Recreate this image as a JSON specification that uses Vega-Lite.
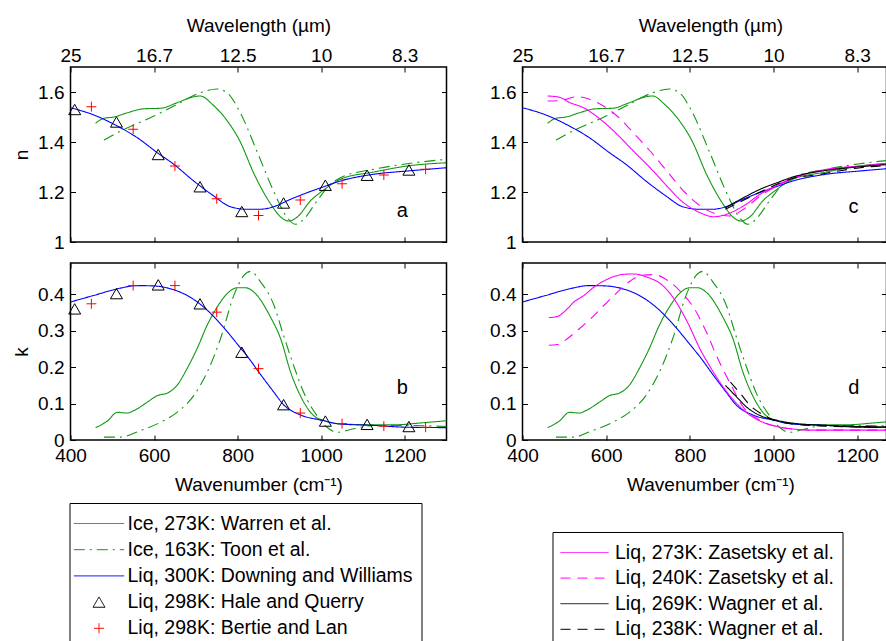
{
  "$schema": "https://vega.github.io/schema/vega-lite/v6.json",
  "background": "white",
  "padding": {"left": 11.5, "top": 15, "right": 0, "bottom": 0},
  "config": {
    "font": "Liberation Sans",
    "view": {"stroke": "black", "strokeWidth": 1.5},
    "axis": {"domain": false, "grid": false, "tickColor": "black", "tickWidth": 1, "tickSize": -5, "labelFontSize": 19, "labelFont": "Liberation Sans", "labelColor": "black", "titleFontSize": 19, "titleFont": "Liberation Sans", "titleFontWeight": "normal", "titleColor": "black", "labelOverlap": false, "labelFlush": false, "labelBound": false},
    "axisTop": {"labelPadding": 7, "titlePadding": 11},
    "axisBottom": {"labelPadding": 11.5, "titlePadding": 9.5},
    "axisLeft": {"labelPadding": 11.5, "titlePadding": 6}
  },
  "datasets": {
    "curves": [
      {"s": "Ice, 273K: Warren et al.", "q": "n", "x": [460,480,504,536,576,616,655,695,711,740,775,805,840,880,903,922,943,974,1006,1046,1126,1206,1300], "v": [1.475,1.495,1.5,1.517,1.533,1.535,1.557,1.581,1.584,1.55,1.485,1.405,1.27,1.15,1.1,1.084,1.1,1.164,1.208,1.251,1.28,1.304,1.317]},
      {"s": "Ice, 163K: Toon et al.", "q": "n", "x": [480,520,568,616,655,711,751,775,807,847,887,919,938,958,990,1022,1046,1126,1206,1300], "v": [1.408,1.444,1.48,1.517,1.551,1.597,1.612,1.597,1.515,1.36,1.2,1.097,1.071,1.091,1.164,1.231,1.257,1.291,1.313,1.331]},
      {"s": "Liq, 300K: Downing and Williams", "q": "n", "x": [400,456,512,560,608,647,695,743,783,823,855,886,927,966,1006,1046,1126,1206,1300], "v": [1.537,1.508,1.464,1.417,1.357,1.311,1.244,1.184,1.141,1.131,1.131,1.141,1.171,1.197,1.221,1.244,1.271,1.284,1.297]},
      {"s": "Liq, 273K: Zasetsky et al.", "q": "n", "x": [460,486,514,546,586,626,665,705,745,785,825,857,888,928,968,1008,1048,1128,1207,1300], "v": [1.584,1.58,1.557,1.537,1.491,1.431,1.364,1.297,1.224,1.157,1.117,1.101,1.111,1.144,1.191,1.227,1.257,1.291,1.304,1.318]},
      {"s": "Liq, 240K: Zasetsky et al.", "q": "n", "x": [460,490,530,586,626,665,705,745,785,825,865,897,928,968,1008,1048,1128,1207,1300], "v": [1.564,1.566,1.581,1.551,1.504,1.437,1.364,1.284,1.204,1.144,1.111,1.104,1.131,1.184,1.224,1.255,1.289,1.303,1.316]},
      {"s": "Liq, 269K: Wagner et al.", "q": "n", "x": [885,928,968,1008,1048,1128,1207,1300], "v": [1.137,1.177,1.211,1.237,1.261,1.287,1.301,1.313]},
      {"s": "Liq, 238K: Wagner et al.", "q": "n", "x": [885,928,968,1008,1048,1100,1207,1300], "v": [1.131,1.167,1.2,1.231,1.255,1.268,1.297,1.309]},
      {"s": "Ice, 273K: Warren et al.", "q": "k", "x": [460,488,512,536,552,584,608,632,655,679,703,727,751,775,799,819,839,879,903,927,950,982,1006,1046,1126,1180,1240,1300], "v": [0.034,0.052,0.076,0.074,0.081,0.104,0.122,0.129,0.15,0.196,0.251,0.315,0.365,0.402,0.418,0.418,0.406,0.337,0.278,0.186,0.122,0.067,0.054,0.044,0.042,0.042,0.047,0.053]},
      {"s": "Ice, 163K: Toon et al.", "q": "k", "x": [480,520,568,616,655,695,727,759,791,815,831,855,887,910,934,958,990,1014,1038,1070,1126,1205,1300], "v": [0.008,0.008,0.026,0.049,0.076,0.122,0.186,0.278,0.397,0.452,0.463,0.434,0.37,0.287,0.205,0.131,0.067,0.035,0.021,0.029,0.04,0.04,0.037]},
      {"s": "Liq, 300K: Downing and Williams", "q": "k", "x": [400,456,512,560,600,640,679,719,759,799,831,851,887,910,950,998,1046,1126,1206,1300], "v": [0.379,0.397,0.415,0.424,0.423,0.415,0.397,0.365,0.319,0.264,0.218,0.186,0.131,0.097,0.069,0.055,0.044,0.04,0.035,0.034]},
      {"s": "Liq, 273K: Zasetsky et al.", "q": "k", "x": [463,483,507,523,547,571,602,642,666,698,730,762,794,826,849,880,912,944,976,1008,1048,1088,1300], "v": [0.336,0.339,0.36,0.379,0.397,0.42,0.441,0.455,0.456,0.447,0.429,0.388,0.324,0.246,0.2,0.145,0.1,0.068,0.048,0.037,0.03,0.027,0.027]},
      {"s": "Liq, 240K: Zasetsky et al.", "q": "k", "x": [463,483,507,531,563,595,627,659,683,715,747,779,811,840,865,897,928,968,1008,1048,1100,1300], "v": [0.26,0.262,0.278,0.301,0.333,0.37,0.406,0.438,0.452,0.454,0.438,0.406,0.36,0.295,0.228,0.154,0.09,0.054,0.037,0.03,0.027,0.027]},
      {"s": "Liq, 269K: Wagner et al.", "q": "k", "x": [885,912,936,968,1008,1048,1128,1207,1300], "v": [0.15,0.118,0.09,0.067,0.054,0.046,0.04,0.037,0.036]},
      {"s": "Liq, 238K: Wagner et al.", "q": "k", "x": [897,921,944,968,1008,1048,1128,1207,1300], "v": [0.159,0.127,0.095,0.074,0.052,0.044,0.038,0.036,0.035]}
    ],
    "pts": [
      {"s": "Liq, 298K: Hale and Querry", "q": "n", "x": [410,510,610,710,810,910,1010,1110,1210], "v": [1.53,1.48,1.35,1.221,1.122,1.156,1.227,1.267,1.288]},
      {"s": "Liq, 298K: Bertie and Lan", "q": "n", "x": [450,550,650,750,850,950,1050,1150,1250], "v": [1.541,1.451,1.304,1.173,1.106,1.168,1.233,1.268,1.291]},
      {"s": "Liq, 298K: Hale and Querry", "q": "k", "x": [410,510,610,710,810,910,1010,1110,1210], "v": [0.36,0.402,0.426,0.374,0.241,0.097,0.052,0.043,0.037]},
      {"s": "Liq, 298K: Bertie and Lan", "q": "k", "x": [450,550,650,750,850,950,1050,1150,1250], "v": [0.374,0.424,0.424,0.351,0.196,0.074,0.045,0.038,0.035]}
    ],
    "tags": [
      {"p": "a", "x": 1194, "v": 1.1},
      {"p": "b", "x": 1194, "v": 0.127},
      {"p": "c", "x": 1191, "v": 1.116},
      {"p": "d", "x": 1192, "v": 0.127}
    ]
  },
  "columns": 2,
  "bounds": "flush",
  "spacing": {"row": 21, "column": 76},
  "resolve": {
    "scale": {"color": "independent", "strokeDash": "independent", "shape": "independent"},
    "legend": {"color": "independent", "strokeDash": "independent", "shape": "independent"}
  },
  "concat": [
    {
      "width": 376, "height": 175,
      "resolve": {"axis": {"x": "independent", "y": "independent"}},
      "layer": [
        {
          "data": {"name": "curves"},
          "transform": [{"filter": "datum.q === 'n' && indexof(['Ice, 273K: Warren et al.', 'Ice, 163K: Toon et al.', 'Liq, 300K: Downing and Williams'], datum.s) >= 0"}, {"flatten": ["x", "v"]}],
          "mark": {"type": "line", "strokeWidth": 1.1, "clip": true, "interpolate": "monotone"},
          "encoding": {
            "x": {"field": "x", "type": "quantitative", "scale": {"domain": [400, 1300], "nice": false, "zero": false}, "axis": {"orient": "bottom", "values": [400, 600, 800, 1000, 1200], "labels": false, "title": null}},
            "y": {"field": "v", "type": "quantitative", "scale": {"domain": [1, 1.7], "nice": false, "zero": false}, "axis": {"orient": "left", "values": [1, 1.2, 1.4, 1.6], "format": "~g", "title": "n"}},
            "color": {"field": "s", "type": "nominal", "scale": {"domain": ["Ice, 273K: Warren et al.", "Ice, 163K: Toon et al.", "Liq, 300K: Downing and Williams", "Liq, 298K: Hale and Querry", "Liq, 298K: Bertie and Lan", "Liq, 273K: Zasetsky et al.", "Liq, 240K: Zasetsky et al.", "Liq, 269K: Wagner et al.", "Liq, 238K: Wagner et al."], "range": ["#119911", "#119911", "#0000ff", "#000000", "#ff0000", "#ff00ff", "#ff00ff", "#000000", "#000000"]}, "legend": null},
            "strokeDash": {"field": "s", "type": "nominal", "scale": {"domain": ["Ice, 273K: Warren et al.", "Ice, 163K: Toon et al.", "Liq, 300K: Downing and Williams", "Liq, 298K: Hale and Querry", "Liq, 298K: Bertie and Lan", "Liq, 273K: Zasetsky et al.", "Liq, 240K: Zasetsky et al.", "Liq, 269K: Wagner et al.", "Liq, 238K: Wagner et al."], "range": [[1, 0], [11, 5, 2, 5], [1, 0], [1, 0], [1, 0], [1, 0], [10, 7], [1, 0], [10, 7]]}, "legend": null}
          }
        },
        {
          "data": {"name": "pts"},
          "transform": [{"filter": "datum.q === 'n'"}, {"flatten": ["x", "v"]}],
          "mark": {"type": "point", "filled": false, "strokeWidth": 1, "size": 144, "opacity": 1},
          "encoding": {
            "x": {"field": "x", "type": "quantitative", "axis": null},
            "y": {"field": "v", "type": "quantitative", "axis": null},
            "color": {"field": "s", "type": "nominal", "scale": {"domain": ["Ice, 273K: Warren et al.", "Ice, 163K: Toon et al.", "Liq, 300K: Downing and Williams", "Liq, 298K: Hale and Querry", "Liq, 298K: Bertie and Lan", "Liq, 273K: Zasetsky et al.", "Liq, 240K: Zasetsky et al.", "Liq, 269K: Wagner et al.", "Liq, 238K: Wagner et al."], "range": ["#119911", "#119911", "#0000ff", "#000000", "#ff0000", "#ff00ff", "#ff00ff", "#000000", "#000000"]}, "legend": null},
            "shape": {"field": "s", "type": "nominal", "scale": {"domain": ["Liq, 298K: Hale and Querry", "Liq, 298K: Bertie and Lan"], "range": ["triangle-up", "M-0.83,0H0.83M0,-0.83V0.83"]}, "legend": null}
          }
        },
        {
          "data": {"name": "tags"},
          "transform": [{"filter": "datum.p === 'a'"}],
          "mark": {"type": "text", "fontSize": 20, "font": "Liberation Sans", "align": "center", "baseline": "alphabetic", "color": "black"},
          "encoding": {
            "x": {"field": "x", "type": "quantitative", "axis": {"orient": "top", "values": [400, 600, 800, 1000, 1200], "labelExpr": "'' + round(100000 / datum.value) / 10", "title": "Wavelength (µm)"}},
            "y": {"field": "v", "type": "quantitative", "axis": {"orient": "right", "values": [1, 1.2, 1.4, 1.6], "labels": false, "title": null}},
            "text": {"field": "p"}
          }
        }
      ]
    },
    {
      "width": 364, "height": 175,
      "resolve": {"axis": {"x": "independent", "y": "independent"}},
      "layer": [
        {
          "data": {"name": "curves"},
          "transform": [{"filter": "datum.q === 'n'"}, {"flatten": ["x", "v"]}],
          "mark": {"type": "line", "strokeWidth": 1.1, "clip": true, "interpolate": "monotone"},
          "encoding": {
            "x": {"field": "x", "type": "quantitative", "scale": {"domain": [400, 1270], "nice": false, "zero": false}, "axis": {"orient": "bottom", "values": [400, 600, 800, 1000, 1200], "labels": false, "title": null}},
            "y": {"field": "v", "type": "quantitative", "scale": {"domain": [1, 1.7], "nice": false, "zero": false}, "axis": {"orient": "left", "values": [1, 1.2, 1.4, 1.6], "format": "~g", "title": null}},
            "color": {"field": "s", "type": "nominal", "scale": {"domain": ["Ice, 273K: Warren et al.", "Ice, 163K: Toon et al.", "Liq, 300K: Downing and Williams", "Liq, 298K: Hale and Querry", "Liq, 298K: Bertie and Lan", "Liq, 273K: Zasetsky et al.", "Liq, 240K: Zasetsky et al.", "Liq, 269K: Wagner et al.", "Liq, 238K: Wagner et al."], "range": ["#119911", "#119911", "#0000ff", "#000000", "#ff0000", "#ff00ff", "#ff00ff", "#000000", "#000000"]}, "legend": null},
            "strokeDash": {"field": "s", "type": "nominal", "scale": {"domain": ["Ice, 273K: Warren et al.", "Ice, 163K: Toon et al.", "Liq, 300K: Downing and Williams", "Liq, 298K: Hale and Querry", "Liq, 298K: Bertie and Lan", "Liq, 273K: Zasetsky et al.", "Liq, 240K: Zasetsky et al.", "Liq, 269K: Wagner et al.", "Liq, 238K: Wagner et al."], "range": [[1, 0], [11, 5, 2, 5], [1, 0], [1, 0], [1, 0], [1, 0], [10, 7], [1, 0], [10, 7]]}, "legend": null}
          }
        },
        {
          "data": {"name": "tags"},
          "transform": [{"filter": "datum.p === 'c'"}],
          "mark": {"type": "text", "fontSize": 20, "font": "Liberation Sans", "align": "center", "baseline": "alphabetic", "color": "black"},
          "encoding": {
            "x": {"field": "x", "type": "quantitative", "axis": {"orient": "top", "values": [400, 600, 800, 1000, 1200], "labelExpr": "'' + round(100000 / datum.value) / 10", "title": "Wavelength (µm)", "titleX": 188}},
            "y": {"field": "v", "type": "quantitative", "axis": {"orient": "right", "values": [1, 1.2, 1.4, 1.6], "labels": false, "title": null}},
            "text": {"field": "p"}
          }
        }
      ]
    },
    {
      "width": 376, "height": 177,
      "resolve": {"axis": {"x": "independent", "y": "independent"}},
      "layer": [
        {
          "data": {"name": "curves"},
          "transform": [{"filter": "datum.q === 'k' && indexof(['Ice, 273K: Warren et al.', 'Ice, 163K: Toon et al.', 'Liq, 300K: Downing and Williams'], datum.s) >= 0"}, {"flatten": ["x", "v"]}],
          "mark": {"type": "line", "strokeWidth": 1.1, "clip": true, "interpolate": "monotone"},
          "encoding": {
            "x": {"field": "x", "type": "quantitative", "scale": {"domain": [400, 1300], "nice": false, "zero": false}, "axis": {"orient": "bottom", "values": [400, 600, 800, 1000, 1200], "format": "d", "title": "Wavenumber (cm⁻¹)"}},
            "y": {"field": "v", "type": "quantitative", "scale": {"domain": [0, 0.486], "nice": false, "zero": false}, "axis": {"orient": "left", "values": [0, 0.1, 0.2, 0.3, 0.4], "format": "~g", "title": "k"}},
            "color": {"field": "s", "type": "nominal", "scale": {"domain": ["Ice, 273K: Warren et al.", "Ice, 163K: Toon et al.", "Liq, 300K: Downing and Williams", "Liq, 298K: Hale and Querry", "Liq, 298K: Bertie and Lan", "Liq, 273K: Zasetsky et al.", "Liq, 240K: Zasetsky et al.", "Liq, 269K: Wagner et al.", "Liq, 238K: Wagner et al."], "range": ["#119911", "#119911", "#0000ff", "#000000", "#ff0000", "#ff00ff", "#ff00ff", "#000000", "#000000"]},
              "legend": {
                "orient": "none", "legendX": -1, "legendY": 240, "title": null,
                "values": ["Ice, 273K: Warren et al.", "Ice, 163K: Toon et al.", "Liq, 300K: Downing and Williams", "Liq, 298K: Hale and Querry", "Liq, 298K: Bertie and Lan"],
                "labelFont": "Liberation Sans", "labelFontSize": 19.5, "labelColor": "black", "labelLimit": 500,
                "padding": 8, "strokeColor": "black", "fillColor": "white", "cornerRadius": 0,
                "rowPadding": 4.2, "symbolSize": 576, "symbolStrokeWidth": 1, "symbolOffset": 9, "labelOffset": 16,
                "symbolType": "M-2.1,0H2.1",
                "encode": {"symbols": {"update": {
                  "shape": {"signal": "datum.value === 'Liq, 298K: Hale and Querry' ? 'M0,-0.43L0.5,0.43L-0.5,0.43Z' : datum.value === 'Liq, 298K: Bertie and Lan' ? 'M-0.42,0H0.42M0,-0.42V0.42' : 'M-2.1,0H2.1'"},
                  "strokeDash": {"signal": "datum.value === 'Ice, 163K: Toon et al.' ? [11, 5, 2, 5] : [1, 0]"},
                  "fill": {"value": "transparent"}
                }}}
              }
            },
            "strokeDash": {"field": "s", "type": "nominal", "scale": {"domain": ["Ice, 273K: Warren et al.", "Ice, 163K: Toon et al.", "Liq, 300K: Downing and Williams", "Liq, 298K: Hale and Querry", "Liq, 298K: Bertie and Lan", "Liq, 273K: Zasetsky et al.", "Liq, 240K: Zasetsky et al.", "Liq, 269K: Wagner et al.", "Liq, 238K: Wagner et al."], "range": [[1, 0], [11, 5, 2, 5], [1, 0], [1, 0], [1, 0], [1, 0], [10, 7], [1, 0], [10, 7]]}, "legend": null}
          }
        },
        {
          "data": {"name": "pts"},
          "transform": [{"filter": "datum.q === 'k'"}, {"flatten": ["x", "v"]}],
          "mark": {"type": "point", "filled": false, "strokeWidth": 1, "size": 144, "opacity": 1},
          "encoding": {
            "x": {"field": "x", "type": "quantitative", "axis": null},
            "y": {"field": "v", "type": "quantitative", "axis": null},
            "color": {"field": "s", "type": "nominal", "scale": {"domain": ["Ice, 273K: Warren et al.", "Ice, 163K: Toon et al.", "Liq, 300K: Downing and Williams", "Liq, 298K: Hale and Querry", "Liq, 298K: Bertie and Lan", "Liq, 273K: Zasetsky et al.", "Liq, 240K: Zasetsky et al.", "Liq, 269K: Wagner et al.", "Liq, 238K: Wagner et al."], "range": ["#119911", "#119911", "#0000ff", "#000000", "#ff0000", "#ff00ff", "#ff00ff", "#000000", "#000000"]}, "legend": null},
            "shape": {"field": "s", "type": "nominal", "scale": {"domain": ["Liq, 298K: Hale and Querry", "Liq, 298K: Bertie and Lan"], "range": ["triangle-up", "M-0.83,0H0.83M0,-0.83V0.83"]}, "legend": null}
          }
        },
        {
          "data": {"name": "tags"},
          "transform": [{"filter": "datum.p === 'b'"}],
          "mark": {"type": "text", "fontSize": 20, "font": "Liberation Sans", "align": "center", "baseline": "alphabetic", "color": "black"},
          "encoding": {
            "x": {"field": "x", "type": "quantitative", "axis": {"orient": "top", "values": [400, 600, 800, 1000, 1200], "labels": false, "title": null}},
            "y": {"field": "v", "type": "quantitative", "axis": {"orient": "right", "values": [0, 0.1, 0.2, 0.3, 0.4], "labels": false, "title": null}},
            "text": {"field": "p"}
          }
        }
      ]
    },
    {
      "width": 364, "height": 177,
      "resolve": {"axis": {"x": "independent", "y": "independent"}},
      "layer": [
        {
          "data": {"name": "curves"},
          "transform": [{"filter": "datum.q === 'k'"}, {"flatten": ["x", "v"]}],
          "mark": {"type": "line", "strokeWidth": 1.1, "clip": true, "interpolate": "monotone"},
          "encoding": {
            "x": {"field": "x", "type": "quantitative", "scale": {"domain": [400, 1270], "nice": false, "zero": false}, "axis": {"orient": "bottom", "values": [400, 600, 800, 1000, 1200], "format": "d", "title": "Wavenumber (cm⁻¹)", "titleX": 188}},
            "y": {"field": "v", "type": "quantitative", "scale": {"domain": [0, 0.486], "nice": false, "zero": false}, "axis": {"orient": "left", "values": [0, 0.1, 0.2, 0.3, 0.4], "format": "~g", "title": null}},
            "color": {"field": "s", "type": "nominal", "scale": {"domain": ["Ice, 273K: Warren et al.", "Ice, 163K: Toon et al.", "Liq, 300K: Downing and Williams", "Liq, 298K: Hale and Querry", "Liq, 298K: Bertie and Lan", "Liq, 273K: Zasetsky et al.", "Liq, 240K: Zasetsky et al.", "Liq, 269K: Wagner et al.", "Liq, 238K: Wagner et al."], "range": ["#119911", "#119911", "#0000ff", "#000000", "#ff0000", "#ff00ff", "#ff00ff", "#000000", "#000000"]},
              "legend": {
                "orient": "none", "legendX": 30, "legendY": 269, "title": null,
                "values": ["Liq, 273K: Zasetsky et al.", "Liq, 240K: Zasetsky et al.", "Liq, 269K: Wagner et al.", "Liq, 238K: Wagner et al."],
                "labelFont": "Liberation Sans", "labelFontSize": 19.5, "labelColor": "black", "labelLimit": 500,
                "padding": 8, "strokeColor": "black", "fillColor": "white", "cornerRadius": 0,
                "rowPadding": 3.6, "symbolSize": 576, "symbolStrokeWidth": 1, "symbolOffset": 11.5, "labelOffset": 18,
                "symbolType": "M-2,0H2",
                "encode": {"symbols": {"update": {
                  "shape": {"value": "M-2,0H2"},
                  "strokeDash": {"signal": "datum.value === 'Liq, 240K: Zasetsky et al.' || datum.value === 'Liq, 238K: Wagner et al.' ? [10, 7] : [1, 0]"},
                  "fill": {"value": "transparent"}
                }}}
              }
            },
            "strokeDash": {"field": "s", "type": "nominal", "scale": {"domain": ["Ice, 273K: Warren et al.", "Ice, 163K: Toon et al.", "Liq, 300K: Downing and Williams", "Liq, 298K: Hale and Querry", "Liq, 298K: Bertie and Lan", "Liq, 273K: Zasetsky et al.", "Liq, 240K: Zasetsky et al.", "Liq, 269K: Wagner et al.", "Liq, 238K: Wagner et al."], "range": [[1, 0], [11, 5, 2, 5], [1, 0], [1, 0], [1, 0], [1, 0], [10, 7], [1, 0], [10, 7]]}, "legend": null}
          }
        },
        {
          "data": {"name": "tags"},
          "transform": [{"filter": "datum.p === 'd'"}],
          "mark": {"type": "text", "fontSize": 20, "font": "Liberation Sans", "align": "center", "baseline": "alphabetic", "color": "black"},
          "encoding": {
            "x": {"field": "x", "type": "quantitative", "axis": {"orient": "top", "values": [400, 600, 800, 1000, 1200], "labels": false, "title": null}},
            "y": {"field": "v", "type": "quantitative", "axis": {"orient": "right", "values": [0, 0.1, 0.2, 0.3, 0.4], "labels": false, "title": null}},
            "text": {"field": "p"}
          }
        }
      ]
    }
  ]
}
